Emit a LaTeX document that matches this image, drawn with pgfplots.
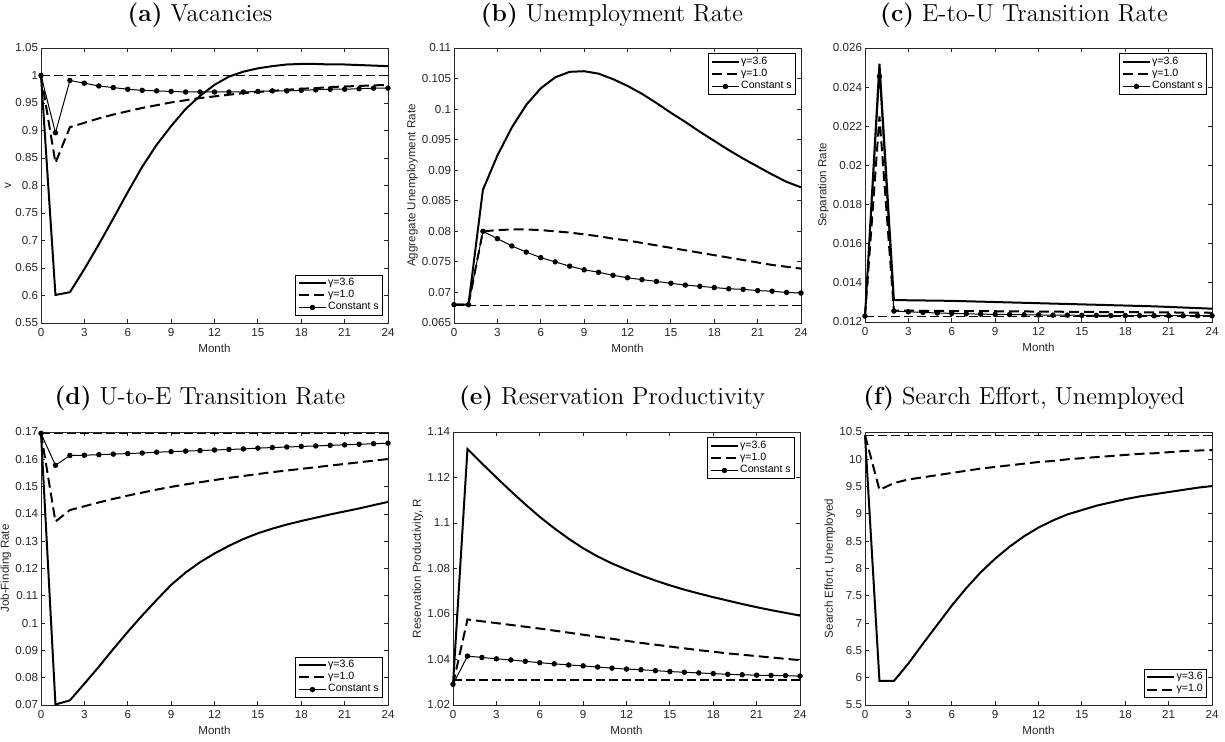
\documentclass[border=0pt]{standalone}
\usepackage{fontspec}
\newfontfamily\arial{Liberation Sans}
\usepackage{pgfplots}
\usepackage{pgfplotstable}
\pgfplotsset{compat=1.18}
\definecolor{mgray}{RGB}{38,38,38}

% panel (a) vacancies
\pgfplotstableread{
m g36 g10 cs
0 1.000 1.000 1.000
1 0.601 0.841 0.896
2 0.606 0.906 0.991
3 0.648 0.914 0.986
4 0.693 0.922 0.981
5 0.740 0.929 0.978
6 0.788 0.935 0.975
7 0.834 0.941 0.973
8 0.874 0.946 0.972
9 0.908 0.951 0.971
10 0.939 0.955 0.970
11 0.963 0.959 0.970
12 0.983 0.962 0.970
13 0.998 0.965 0.970
14 1.007 0.968 0.970
15 1.013 0.970 0.971
16 1.017 0.972 0.972
17 1.020 0.974 0.972
18 1.021 0.976 0.973
19 1.021 0.977 0.974
20 1.020 0.979 0.975
21 1.020 0.980 0.975
22 1.019 0.981 0.976
23 1.018 0.982 0.977
24 1.017 0.983 0.977
}\tabA
% panel (b) unemployment
\pgfplotstableread{
m g36 g10 cs
0 .0680 .0680 .0680
1 .0680 .0680 .0680
2 .0868 .0800 .0800
3 .0924 .0802 .0788
4 .0970 .0803 .0776
5 .1007 .0803 .0766
6 .1034 .0802 .0757
7 .1052 .0800 .0750
8 .1061 .0798 .0743
9 .1062 .0795 .0737
10 .1058 .0792 .0733
11 .1049 .0788 .0728
12 .1038 .0785 .0724
13 .1025 .0781 .0721
14 .1010 .0777 .0718
15 .0994 .0773 .0715
16 .0979 .0769 .0712
17 .0963 .0765 .0710
18 .0948 .0761 .0708
19 .0933 .0757 .0706
20 .0919 .0753 .0705
21 .0906 .0749 .0703
22 .0893 .0745 .0702
23 .0881 .0742 .0700
24 .0872 .0739 .0699
}\tabB
% panel (c) separation rate
\pgfplotstableread{
m g36 g10 cs
0 .01230 .01230 .01230
1 .02520 .02250 .02455
2 .01312 .01258 .01256
3 .01311 .01258 .01252
4 .01310 .01257 .01249
5 .01309 .01257 .01246
6 .01308 .01256 .01244
7 .01306 .01256 .01242
8 .01304 .01255 .01240
9 .01302 .01255 .01239
10 .01300 .01254 .01238
11 .01298 .01254 .01237
12 .01296 .01253 .01236
13 .01294 .01253 .01235
14 .01292 .01252 .01235
15 .01290 .01252 .01234
16 .01288 .01251 .01234
17 .01286 .01251 .01233
18 .01284 .01250 .01233
19 .01282 .01250 .01233
20 .01280 .01249 .01232
21 .01277 .01249 .01232
22 .01274 .01248 .01232
23 .01271 .01248 .01232
24 .01268 .01247 .01232
}\tabC
% panel (d) job-finding rate
\pgfplotstableread{
m g36 g10 cs
0 .1695 .1695 .1695
1 .0702 .1372 .1578
2 .0717 .1414 .1614
3 .0778 .1428 .1615
4 .0840 .1442 .1617
5 .0905 .1455 .1619
6 .0968 .1467 .1621
7 .1028 .1478 .1623
8 .1085 .1489 .1626
9 .1140 .1499 .1628
10 .1185 .1508 .1630
11 .1223 .1516 .1632
12 .1255 .1524 .1634
13 .1283 .1532 .1636
14 .1308 .1539 .1638
15 .1329 .1546 .1641
16 .1346 .1553 .1643
17 .1361 .1559 .1645
18 .1374 .1565 .1647
19 .1386 .1571 .1649
20 .1398 .1577 .1651
21 .1409 .1583 .1653
22 .1420 .1589 .1655
23 .1432 .1595 .1657
24 .1444 .1601 .1659
}\tabD
% panel (e) reservation productivity
\pgfplotstableread{
m g36 g10 cs
0 1.0291 1.0291 1.0291
1 1.1325 1.0576 1.0415
2 1.1262 1.0568 1.0409
3 1.1200 1.0560 1.0403
4 1.1140 1.0552 1.0398
5 1.1082 1.0544 1.0392
6 1.1027 1.0536 1.0386
7 1.0977 1.0527 1.0381
8 1.0931 1.0518 1.0376
9 1.0889 1.0509 1.0372
10 1.0853 1.0500 1.0367
11 1.0822 1.0491 1.0362
12 1.0795 1.0482 1.0358
13 1.0770 1.0473 1.0355
14 1.0747 1.0465 1.0351
15 1.0726 1.0457 1.0347
16 1.0707 1.0449 1.0344
17 1.0690 1.0441 1.0341
18 1.0674 1.0434 1.0338
19 1.0659 1.0427 1.0335
20 1.0644 1.0421 1.0333
21 1.0630 1.0415 1.0331
22 1.0617 1.0409 1.0330
23 1.0605 1.0403 1.0329
24 1.0593 1.0397 1.0327
}\tabE
% panel (f) search effort
\pgfplotstableread{
m g36 g10
0 10.44 10.44
1 5.94 9.44
2 5.94 9.565
3 6.26 9.63
4 6.62 9.67
5 6.97 9.71
6 7.32 9.75
7 7.64 9.79
8 7.93 9.83
9 8.18 9.86
10 8.40 9.89
11 8.59 9.92
12 8.75 9.95
13 8.88 9.97
14 8.99 10.00
15 9.07 10.02
16 9.15 10.04
17 9.21 10.06
18 9.27 10.08
19 9.32 10.10
20 9.36 10.11
21 9.40 10.13
22 9.44 10.15
23 9.48 10.16
24 9.51 10.17
}\tabF

\pgfplotsset{
  panel/.style={
    scale only axis, width=173.5pt, anchor=north west,
    xmin=0, xmax=24, xtick={0,3,...,24},
    axis line style={mgray, line width=0.4pt},
    tick style={mgray, line width=0.4pt},
    tick align=inside, major tick length=2.2pt,
    tick label style={font=\arial\fontsize{5.8}{7}\selectfont, text=mgray},
    label style={font=\arial\fontsize{5.8}{7}\selectfont, text=mgray},
    xlabel={Month},
    xlabel style={yshift=3pt},
    ylabel style={inner sep=0.6pt},
    xticklabel style={yshift=1pt},
    yticklabel style={inner xsep=1.3pt, /pgf/number format/.cd, fixed, precision=3},
    scaled y ticks=false,
    /pgf/number format/assume math mode=true,
    clip=false,
    legend style={font=\arial\fontsize{5.3}{6.4}\selectfont, draw=black,
      line width=0.4pt, fill=white, inner xsep=1.2pt, inner ysep=0.9pt,
      nodes={inner sep=0.6pt}, row sep=-0.3pt, cells={anchor=west}},
    legend image code/.code={\draw[mark repeat=2,mark phase=2,#1]
      plot coordinates {(0pt,0pt) (6.75pt,0pt) (13.5pt,0pt)};},
  },
  g36/.style={black, line width=1pt, no markers},
  g10/.style={black, line width=1pt, dash pattern=on 5pt off 2.5pt, no markers},
  cs/.style={black, line width=0.5pt, mark=*, mark size=1.1pt, mark options={solid}},
  ssl/.style={black, line width=0.6pt, dash pattern=on 4.5pt off 2pt, no markers, forget plot},
  legSE/.style={legend style={at={(0.985,0.025)}, anchor=south east}},
  legNE/.style={legend style={at={(0.985,0.98)}, anchor=north east}},
}
\newcommand{\ptitle}[2]{{\fontsize{12.3}{14.5}\selectfont\textbf{(#1)} #2}}

\begin{document}
\begin{tikzpicture}
\useasboundingbox (0,0) rectangle (612.5pt,-371pt);

% titles
\node[anchor=base] at (100pt,-11pt) {\ptitle{a}{Vacancies}};
\node[anchor=base] at (306pt,-11pt) {\ptitle{b}{Unemployment Rate}};
\node[anchor=base] at (512pt,-11pt) {\ptitle{c}{E-to-U Transition Rate}};
\node[anchor=base] at (100pt,-202.5pt) {\ptitle{d}{U-to-E Transition Rate}};
\node[anchor=base] at (306pt,-202.5pt) {\ptitle{e}{Reservation Productivity}};
\node[anchor=base] at (512pt,-202.5pt) {\ptitle{f}{Search Effort, Unemployed}};

\begin{axis}[panel, legSE, at={(20.5pt,-24pt)}, height=137.5pt,
  ymin=0.55, ymax=1.05, ytick={0.55,0.6,...,1.06}, ylabel={v}]
  \addplot[g36] table[x=m, y=g36] {\tabA};
  \addplot[g10] table[x=m, y=g10] {\tabA};
  \addplot[cs] table[x=m, y=cs] {\tabA};
  \addplot[ssl] coordinates {(0,1) (24,1)};
  \legend{γ=3.6, γ=1.0, Constant s}
\end{axis}

\begin{axis}[panel, legNE, at={(227pt,-24pt)}, height=137.5pt,
  ymin=0.065, ymax=0.11, ytick={0.065,0.07,...,0.1101},
  ylabel={Aggregate Unemployment Rate}]
  \addplot[g36] table[x=m, y=g36] {\tabB};
  \addplot[g10] table[x=m, y=g10] {\tabB};
  \addplot[cs] table[x=m, y=cs] {\tabB};
  \addplot[ssl] coordinates {(0,0.0678) (24,0.0678)};
  \legend{γ=3.6, γ=1.0, Constant s}
\end{axis}

\begin{axis}[panel, legNE, at={(432.5pt,-24pt)}, height=137pt,
  ymin=0.012, ymax=0.026, ytick={0.012,0.014,...,0.0261},
  ylabel={Separation Rate}]
  \addplot[g36] table[x=m, y=g36] {\tabC};
  \addplot[g10] table[x=m, y=g10] {\tabC};
  \addplot[cs] table[x=m, y=cs] {\tabC};
  \addplot[ssl] coordinates {(0,0.0123) (24,0.0123)};
  \legend{γ=3.6, γ=1.0, Constant s}
\end{axis}

\begin{axis}[panel, legSE, at={(20.5pt,-216pt)}, height=136.5pt,
  ymin=0.07, ymax=0.17, ytick={0.07,0.08,...,0.171},
  ylabel={Job-Finding Rate}]
  \addplot[g36] table[x=m, y=g36] {\tabD};
  \addplot[g10] table[x=m, y=g10] {\tabD};
  \addplot[cs] table[x=m, y=cs] {\tabD};
  \addplot[ssl] coordinates {(0,0.1695) (24,0.1695)};
  \legend{γ=3.6, γ=1.0, Constant s}
\end{axis}

\begin{axis}[panel, legNE, at={(226.5pt,-216pt)}, height=136.5pt,
  ymin=1.02, ymax=1.14, ytick={1.02,1.04,...,1.141},
  ylabel={Reservation Productivity, R}]
  \addplot[g36] table[x=m, y=g36] {\tabE};
  \addplot[g10] table[x=m, y=g10] {\tabE};
  \addplot[cs] table[x=m, y=cs] {\tabE};
  \addplot[ssl] coordinates {(0,1.031) (24,1.031)};
  \legend{γ=3.6, γ=1.0, Constant s}
\end{axis}

\begin{axis}[panel, legSE, at={(432.5pt,-216pt)}, height=136.5pt,
  ymin=5.5, ymax=10.5, ytick={5.5,6,...,10.51},
  ylabel={Search Effort, Unemployed}]
  \addplot[g36] table[x=m, y=g36] {\tabF};
  \addplot[g10] table[x=m, y=g10] {\tabF};
  \addplot[ssl] coordinates {(0,10.44) (24,10.44)};
  \legend{γ=3.6, γ=1.0}
\end{axis}
\end{tikzpicture}
\end{document}
